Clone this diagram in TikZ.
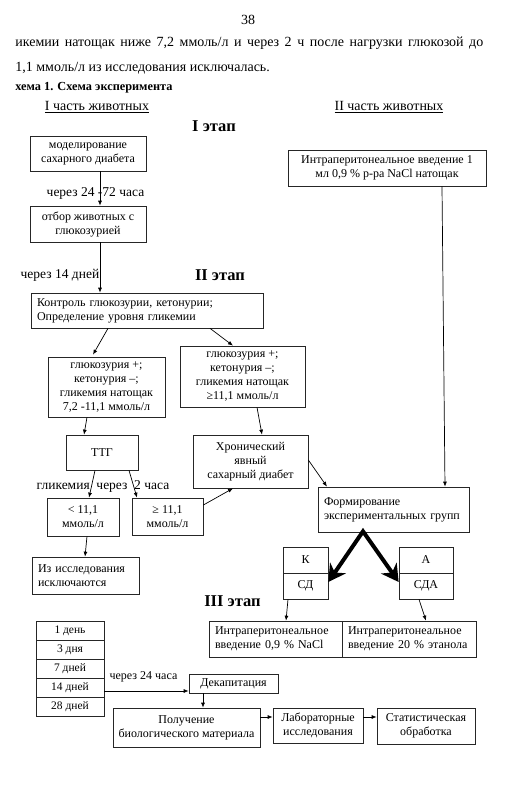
\documentclass[tikz,border=0pt]{standalone}
\usepackage{fontspec}
\setmainfont{Liberation Serif}
\usetikzlibrary{arrows.meta}
\tikzstyle{box}=[rectangle,draw=black!85,line width=0.7pt,align=center,inner sep=1pt,font=\fontsize{12}{14}\selectfont]
\tikzstyle{lbox}=[box,align=left,inner xsep=6pt]
\tikzstyle{day}=[box,minimum width=68pt,minimum height=19pt,font=\fontsize{11.5}{13}\selectfont]
\tikzstyle{body}=[inner sep=0pt,font=\fontsize{14}{16}\selectfont]
\tikzstyle{note}=[inner sep=1pt,font=\fontsize{13.5}{15}\selectfont]
\tikzstyle{stage}=[inner sep=0pt,font=\bfseries\fontsize{16.5}{18}\selectfont]
\tikzstyle{bigarrow}=[line width=4pt,line join=miter,{Stealth[length=17pt,width=19pt]}-{Stealth[length=17pt,width=19pt]}]

\begin{document}
\begin{tikzpicture}[x=1pt,y=-1pt,>={Latex[length=5pt,width=4pt]},line width=0.7pt]
        \useasboundingbox (0,0) rectangle (506,804);

        % page text
        \node at (248,20)  [body] (pagenum) {38};
        \node at (15,43)   [body,anchor=west] (line1) {\makebox[468pt][s]{икемии натощак ниже 7,2 ммоль/л и через 2 ч после нагрузки глюкозой до}};
        \node at (15,68)   [body,anchor=west] (line2) {1,1 ммоль/л из исследования исключалась.};
        \node at (15,88)   [inner sep=0pt,anchor=west,font=\bfseries\fontsize{12.3}{14}\selectfont] (capt) {хема 1. Схема эксперимента};
        \node at (97,107)  [body] (part1) {\underline{I часть животных}};
        \node at (389,107) [body] (part2) {\underline{II часть животных}};

        % stages
        \node at (214,126)   [stage] (st1) {I этап};
        \node at (220,275)   [stage] (st2) {II этап};
        \node at (232.5,601) [stage] (st3) {III этап};

        % I part
        \node at (88,153.5)  [box,minimum width=116pt,minimum height=35pt] (model) {моделирование\\сахарного диабета};
        \node at (88,224)    [box,minimum width=116pt,minimum height=36pt] (otbor) {отбор животных с\\глюкозурией};
        \node at (147,310.5) [lbox,text width=220pt,minimum height=35pt] (kontrol) {Контроль глюкозурии, кетонурии;\\Определение уровня гликемии};
        \node at (106.5,387) [box,minimum width=117pt,minimum height=60pt] (glA) {глюкозурия +;\\кетонурия –;\\гликемия натощак\\7,2 -11,1 ммоль/л};
        \node at (242.5,376.5) [box,minimum width=125pt,minimum height=61pt] (glB) {глюкозурия +;\\кетонурия –;\\гликемия натощак\\≥11,1 ммоль/л};
        \node at (102,452.5) [box,minimum width=72pt,minimum height=35pt] (ttg) {ТТГ};
        \node at (250.5,461.5) [box,minimum width=115pt,minimum height=53pt] (khron) {Хронический\\явный\\сахарный диабет};
        \node at (83,517)    [box,minimum width=72pt,minimum height=38pt] (low) {< 11,1\\ммоль/л};
        \node at (167.5,516.5) [box,minimum width=71pt,minimum height=37pt] (high) {≥ 11,1\\ммоль/л};
        \node at (85.5,575.5) [lbox,text width=95pt,minimum height=37pt] (iskl) {Из исследования\\исключаются};

        % II part
        \node at (387,168)   [box,minimum width=198pt,minimum height=36pt] (nacl) {Интраперитонеальное введение 1\\мл 0,9 \% р-ра NaCl натощак};
        \node at (393.5,509.5) [lbox,text width=139pt,minimum height=45pt] (form) {Формирование\\экспериментальных групп};

        % groups
        \node at (305.5,560) [box,minimum width=45pt,minimum height=26pt] (grK) {К};
        \node at (305.5,586) [box,minimum width=45pt,minimum height=26pt] (grSD) {СД};
        \node at (426,560)   [box,minimum width=54pt,minimum height=26pt] (grA) {А};
        \node at (426,586)   [box,minimum width=54pt,minimum height=26pt] (grSDA) {СДА};
        \node at (275.5,639) [lbox,text width=121pt,minimum height=36pt] (injA) {Интраперитонеальное\\введение 0,9 \% NaCl};
        \node at (409,639)   [lbox,text width=122pt,minimum height=36pt] (injB) {Интраперитонеальное\\введение 20 \% этанола};

        % terms
        \node at (70,630.5) [day] (d1) {1 день};
        \node at (70,649.5) [day] (d3) {3 дня};
        \node at (70,668.5) [day] (d7) {7 дней};
        \node at (70,687.5) [day] (d14) {14 дней};
        \node at (70,706.5) [day] (d28) {28 дней};
        \node at (233.5,683.5) [box,minimum width=89pt,minimum height=19pt] (dekap) {Декапитация};
        \node at (186.5,727.5) [box,minimum width=147pt,minimum height=39pt] (bio) {Получение\\биологического материала};
        \node at (318,725.5) [box,minimum width=90pt,minimum height=35pt] (lab) {Лабораторные\\исследования};
        \node at (426,726)   [box,minimum width=98pt,minimum height=36pt] (stat) {Статистическая\\обработка};

        % labels
        \node at (95.5,193) [note] (t1) {через 24 -72 часа};
        \node at (60,275)   [note] (t2) {через 14 дней};
        \node at (103,486)  [note] (t3) {гликемия\enspace через\enspace 2 часа};
        \node at (143.5,677) [note,font=\fontsize{12}{14}\selectfont] (t4) {через 24 часа};

        \draw [->] ([xshift=12pt]model.south) -- ([xshift=12pt]otbor.north);
        \draw [->] ([xshift=12pt]otbor.south) -- ([xshift=12pt]otbor.south |- kontrol.north);
        \draw [->] ([xshift=-39pt]kontrol.south) -- ([xshift=-13.5pt,yshift=2pt]glA.north);
        \draw [->] ([xshift=63pt]kontrol.south) -- ([xshift=-9.5pt]glB.north);
        \draw [->] ([xshift=-19.5pt]glA.south) -- ([xshift=-18pt]ttg.north);
        \draw [->] ([xshift=14.5pt]glB.south) -- ([xshift=11.5pt]khron.north);
        \draw [->] ([xshift=-7pt]ttg.south) -- ([xshift=6pt]low.north);
        \draw [->] ([xshift=27pt]ttg.south) -- ([xshift=-30.5pt]high.north);
        \draw [->] ([yshift=11.5pt]high.east) -- ([xshift=-17.5pt]khron.south);
        \draw [->] ([xshift=4pt]low.south) -- ([xshift=-0.5pt]iskl.north);
        \draw [->] ([yshift=1.5pt]khron.east) -- ([xshift=-66.5pt]form.north);
        \draw [->] ([xshift=55pt]nacl.south) -- ([xshift=51.5pt]form.north);
        \draw [bigarrow] ([yshift=4pt]grSD.east) -- ([xshift=-30.5pt,yshift=1pt]form.south) -- ([yshift=4pt]grSDA.west);
        \draw [->] ([xshift=-17.5pt]grSD.south) -- ([xshift=10.5pt]injA.north);
        \draw [->] ([xshift=-7pt]grSDA.south) -- ([xshift=17pt]injB.north);
        \draw [->] ([yshift=-3.5pt]d14.east) -- ([yshift=-3.5pt]d14.east -| dekap.west);
        \draw [->] ([xshift=-30.5pt]dekap.south) -- ([xshift=-30.5pt]dekap.south |- bio.north);
        \draw [->] ([yshift=10.5pt]bio.east) -- ([yshift=10.5pt]bio.east -| lab.west);
        \draw [->] ([yshift=8.5pt]lab.east) -- ([yshift=8.5pt]lab.east -| stat.west);
\end{tikzpicture}
\end{document}
